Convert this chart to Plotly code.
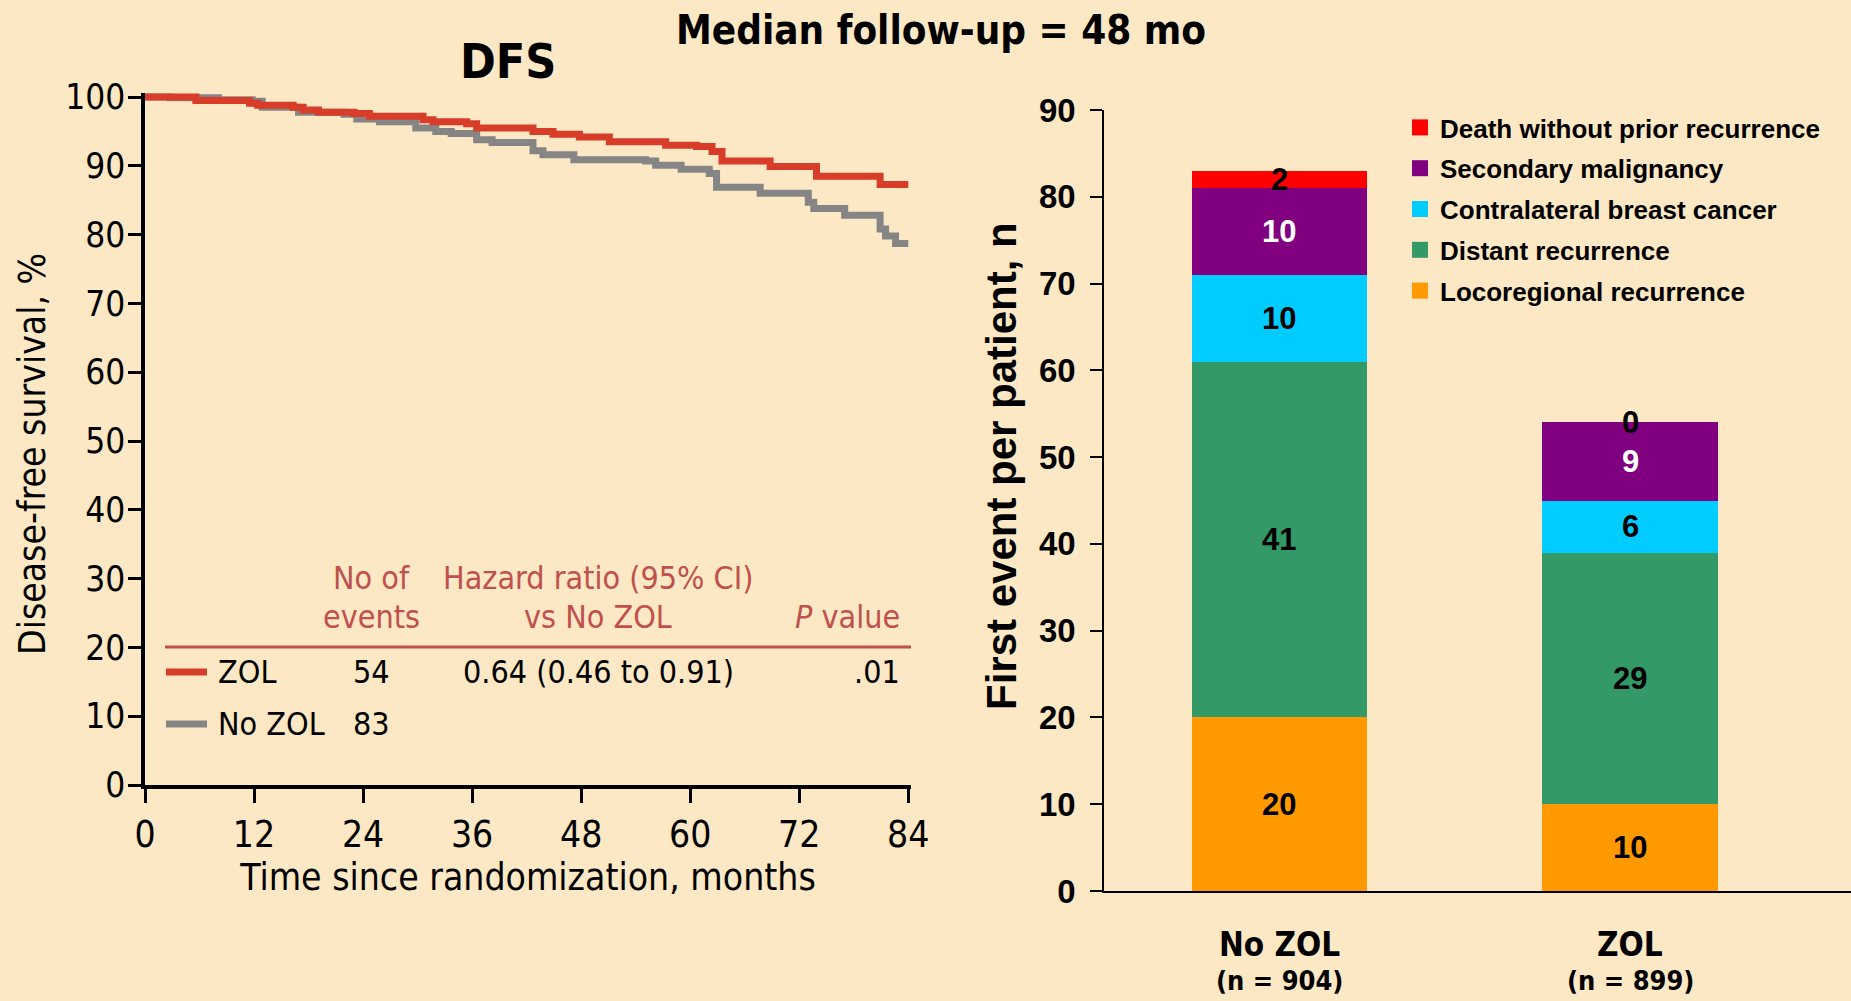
import plotly.graph_objects as go

# ---------------- data ----------------
zol_months = [0, 5.6, 11.5, 12.4, 16.3, 17.4, 19.1, 23.0, 24.7, 30.6, 31.7, 35.4, 36.5, 42.7,
              44.9, 47.8, 51.1, 57.3, 60.7, 62.4, 63.5, 68.8, 73.9, 80.9, 84]
zol_surv = [100, 99.5, 99.1, 98.8, 98.5, 98.1, 97.8, 97.6, 97.2, 96.7, 96.4, 96.1, 95.5, 95.0,
            94.6, 94.2, 93.5, 93.0, 92.8, 92.1, 90.7, 89.9, 88.5, 87.3, 87.3]
nozol_months = [0, 2.8, 8.1, 11.8, 12.9, 16.9, 21.9, 23.3, 25.8, 29.8, 32.0, 33.7, 36.5, 38.2,
                42.7, 43.8, 47.2, 55.1, 56.2, 59.0, 62.1, 62.9, 67.7, 73.0, 73.6, 77.0, 80.9,
                81.5, 82.6, 84]
nozol_surv = [100, 99.9, 99.6, 99.4, 98.5, 97.8, 97.5, 96.8, 96.4, 95.5, 95.0, 94.7, 93.8, 93.4,
              92.2, 91.6, 90.9, 90.7, 90.1, 89.5, 88.9, 86.9, 86.0, 84.7, 83.8, 82.8, 80.8,
              79.8, 78.7, 78.7]
km_xticks = [0, 12, 24, 36, 48, 60, 72, 84]
km_yticks = [0, 10, 20, 30, 40, 50, 60, 70, 80, 90, 100]

bar_groups = ["No ZOL", "ZOL"]
bar_group_n = ["(n = 904)", "(n = 899)"]
event_types = ["Locoregional recurrence", "Distant recurrence", "Contralateral breast cancer",
               "Secondary malignancy", "Death without prior recurrence"]
event_counts = {
    "Locoregional recurrence": [20, 10],
    "Distant recurrence": [41, 29],
    "Contralateral breast cancer": [10, 6],
    "Secondary malignancy": [10, 9],
    "Death without prior recurrence": [2, 0],
}
bar_yticks = [0, 10, 20, 30, 40, 50, 60, 70, 80, 90]

table_events = ["54", "83"]

# ---------------- styles ----------------
BG = "#FCE8C4"
RED = "#D73D29"
GRAY = "#858585"
HDR = "#C0504D"
NARROW = "Liberation Sans Narrow, DejaVu Sans Condensed, Arial Narrow, sans-serif"
ARIAL = "Liberation Sans, Arial, sans-serif"
event_colors = {
    "Locoregional recurrence": "#FF9900",
    "Distant recurrence": "#339966",
    "Contralateral breast cancer": "#00CCFF",
    "Secondary malignancy": "#800080",
    "Death without prior recurrence": "#FF0000",
}
label_colors = {
    "Locoregional recurrence": "black",
    "Distant recurrence": "black",
    "Contralateral breast cancer": "black",
    "Secondary malignancy": "white",
    "Death without prior recurrence": "black",
}
legend_rank = {ev: 5 - i for i, ev in enumerate(event_types)}

W, H = 1851, 1001
fig = go.Figure()

# ---------------- KM curves ----------------
fig.add_trace(go.Scatter(x=nozol_months, y=nozol_surv, mode="lines", line_shape="hv",
                         line=dict(color=GRAY, width=7), showlegend=False,
                         xaxis="x", yaxis="y", hoverinfo="skip"))
fig.add_trace(go.Scatter(x=zol_months, y=zol_surv, mode="lines", line_shape="hv",
                         line=dict(color=RED, width=7), showlegend=False,
                         xaxis="x", yaxis="y", hoverinfo="skip"))

# ---------------- stacked bars ----------------
for ev in event_types:
    fig.add_trace(go.Bar(x=bar_groups, y=event_counts[ev], name=ev,
                         marker=dict(color=event_colors[ev], line=dict(width=0)),
                         width=0.5, xaxis="x2", yaxis="y2", legendgroup=ev,
                         showlegend=False, hoverinfo="skip"))
    # legend entry (bigger square swatch)
    fig.add_trace(go.Scatter(x=[None], y=[None], mode="markers", name=ev,
                             marker=dict(symbol="square", size=16, color=event_colors[ev]),
                             xaxis="x2", yaxis="y2", legendgroup=ev,
                             legendrank=legend_rank[ev], showlegend=True))

annotations = []
for gi, g in enumerate(bar_groups):
    base = 0
    for ev in event_types:
        v = event_counts[ev][gi]
        annotations.append(dict(x=g, y=base + v / 2, xref="x2", yref="y2", text=str(v),
                                showarrow=False, xanchor="center", yanchor="middle",
                                font=dict(family=ARIAL, size=31, color=label_colors[ev],
                                          weight="bold")))
        base += v


def px_x(p):
    return p / W


def px_y(p):
    return 1 - p / H


# category labels under the bars
for g, n in zip(bar_groups, bar_group_n):
    annotations.append(dict(x=g, y=px_y(944), xref="x2", yref="paper", text=g,
                            showarrow=False, xanchor="center", yanchor="middle",
                            font=dict(family=NARROW, size=33, color="black", weight="bold")))
    annotations.append(dict(x=g, y=px_y(980), xref="x2", yref="paper", text=n,
                            showarrow=False, xanchor="center", yanchor="middle",
                            font=dict(family=NARROW, size=27, color="black", weight="bold")))

# titles
annotations.append(dict(x=px_x(941), y=px_y(30), xref="paper", yref="paper",
                        xanchor="center", yanchor="middle",
                        text="Median follow-up = 48 mo", showarrow=False,
                        font=dict(family=NARROW, size=40, color="black", weight="bold")))
annotations.append(dict(x=px_x(508), y=px_y(61), xref="paper", yref="paper", text="DFS",
                        xanchor="center", yanchor="middle", showarrow=False,
                        font=dict(family=NARROW, size=48, color="black", weight="bold")))
# axis titles
annotations.append(dict(x=px_x(33), y=px_y(454), xref="paper", yref="paper",
                        text="Disease-free survival, %", textangle=-90,
                        xanchor="center", yanchor="middle", showarrow=False,
                        font=dict(family=NARROW, size=37, color="black")))
annotations.append(dict(x=px_x(1001), y=px_y(466), xref="paper", yref="paper",
                        text="First event per patient, n", textangle=-90,
                        xanchor="center", yanchor="middle", showarrow=False,
                        font=dict(family=ARIAL, size=42, color="black", weight="bold")))

# table in left panel
tfont = dict(family=NARROW, size=32, color="black")
hfont = dict(family=NARROW, size=32, color=HDR)
table_items = [
    (371, 578, "No of", "center", hfont),
    (371, 617, "events", "center", hfont),
    (598, 578, "Hazard ratio (95% CI)", "center", hfont),
    (598, 617, "vs No ZOL", "center", hfont),
    (902, 617, "<i>P</i> value", "right", hfont),
    (216, 672, "ZOL", "left", tfont),
    (371, 672, table_events[0], "center", tfont),
    (598, 672, "0.64 (0.46 to 0.91)", "center", tfont),
    (902, 672, ".01", "right", tfont),
    (216, 724, "No ZOL", "left", tfont),
    (371, 724, table_events[1], "center", tfont),
]
for x, y, t, anc, f in table_items:
    annotations.append(dict(x=px_x(x), y=px_y(y), xref="paper", yref="paper", text=t,
                            showarrow=False, xanchor=anc, yanchor="middle", font=f))

shapes = [
    dict(type="line", xref="paper", yref="paper", x0=px_x(165), x1=px_x(911),
         y0=px_y(647), y1=px_y(647), line=dict(color=HDR, width=3)),
    dict(type="line", xref="paper", yref="paper", x0=px_x(166), x1=px_x(207),
         y0=px_y(672), y1=px_y(672), line=dict(color=RED, width=7)),
    dict(type="line", xref="paper", yref="paper", x0=px_x(166), x1=px_x(207),
         y0=px_y(724), y1=px_y(724), line=dict(color=GRAY, width=7)),
]

fig.update_layout(
    width=W, height=H,
    paper_bgcolor=BG, plot_bgcolor=BG,
    margin=dict(l=0, r=0, t=0, b=0, autoexpand=False),
    barmode="stack",
    annotations=annotations,
    shapes=shapes,
    xaxis=dict(domain=[px_x(145), px_x(911)], range=[0, 84.3], tickvals=km_xticks,
               showgrid=False, zeroline=False, showline=True, linecolor="black", linewidth=3.5,
               ticks="outside", ticklen=14, tickwidth=3, tickcolor="black",
               tickfont=dict(family=NARROW, size=37, color="black"),
               title=dict(text="Time since randomization, months",
                          font=dict(family=NARROW, size=37, color="black"), standoff=6),
               anchor="y", fixedrange=True, automargin=False),
    yaxis=dict(domain=[px_y(785), px_y(92.9)], range=[0, 100.6], tickvals=km_yticks,
               showgrid=False, zeroline=False, showline=True, linecolor="black", linewidth=3.5,
               ticks="outside", ticklen=13, tickwidth=3, tickcolor="black",
               ticklabelstandoff=-4,
               tickfont=dict(family=NARROW, size=35, color="black"),
               anchor="x", fixedrange=True, automargin=False),
    xaxis2=dict(domain=[px_x(1104), 1.0], range=[-0.5, 1.63], type="category",
                showticklabels=False,
                showgrid=False, zeroline=False, showline=True, linecolor="black", linewidth=1.5,
                ticks="", anchor="y2", fixedrange=True, automargin=False),
    yaxis2=dict(domain=[px_y(891), px_y(110)], range=[0, 90], tickvals=bar_yticks,
                showgrid=False, zeroline=False, showline=True, linecolor="black", linewidth=1.5,
                ticks="outside", ticklen=12, tickwidth=1.5, tickcolor="black",
                ticklabelstandoff=8,
                tickfont=dict(family=ARIAL, size=33, color="black", weight="bold"),
                anchor="x2", fixedrange=True, automargin=False),
    legend=dict(x=px_x(1400), y=px_y(104), xanchor="left", yanchor="top",
                traceorder="grouped", tracegroupgap=4,
                bgcolor="rgba(0,0,0,0)", itemsizing="trace",
                font=dict(family=ARIAL, size=26, color="black", weight="bold")),
    showlegend=True,
)

fig.write_html("out.html", config={"displayModeBar": False},
               post_script="document.body.style.margin='0';document.body.style.padding='0';"
                           "document.body.style.overflow='hidden';")
